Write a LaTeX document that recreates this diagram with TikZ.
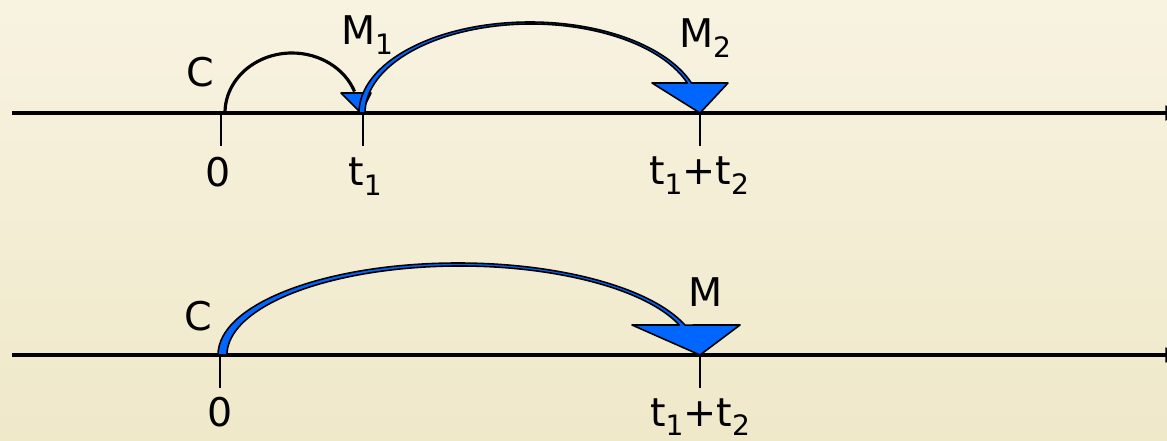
\documentclass[tikz,border=0pt]{standalone}
\usepackage{fontspec}
\setmainfont{DejaVu Sans}
\usetikzlibrary{arrows.meta}
\definecolor{figbgtop}{RGB}{248,243,225}
\definecolor{figbgbottom}{RGB}{239,232,201}
\definecolor{figblue}{RGB}{0,102,255}
\newcommand{\idx}[1]{\raisebox{-0.25em}{\fontsize{16}{16}\selectfont #1}}
\tikzset{
  figaxis/.style={draw=black, line width=1.8pt},
  figtick/.style={draw=black, line width=1.1pt},
  figarc/.style={draw=black, line width=1.8pt},
  figband/.style={draw=black, fill=figblue, line width=0.9pt, line join=round},
  figlabel/.style={font=\fontsize{22.5}{26}\selectfont, inner sep=0pt, anchor=base}
}

\begin{document}
\begin{tikzpicture}[x=0.02cm,y=0.02cm]
  \useasboundingbox (0,0) rectangle (1167,440);
  \shade[top color=figbgtop,bottom color=figbgbottom] (0,0) rectangle (1167,440);
  \clip (0,0) rectangle (1167,440);
  \def\ya{327} \def\yb{85}
  % time axes (tips run off the right edge)
  \draw[figaxis,-{Latex[length=14pt,width=9pt]}] (12,\ya) -- (1190,\ya);
  \draw[figaxis,-{Latex[length=14pt,width=9pt]}] (12,\yb) -- (1190,\yb);
  % ticks
  \foreach \x/\y in {221/\ya,363/\ya,700/\ya,220/\yb,700/\yb} {
    \draw[figtick] (\x,\y) -- ++(0,-33);
  }
  % tick labels
  \node[figlabel] (z1) at (218,253) {0};
  \node[figlabel] (t1) at (365,254) {t\idx{1}};
  \node[figlabel] (s1) at (699,255) {t\idx{1}+t\idx{2}};
  \node[figlabel] (z2) at (220,14) {0};
  \node[figlabel] (s2) at (700,14) {t\idx{1}+t\idx{2}};
  % upper row: C -> M1 -> M2
  \node[figlabel] (c1) at (200,353) {C};
  \node[figlabel] (m1) at (367,395) {M\idx{1}};
  \node[figlabel] (m2) at (705,392) {M\idx{2}};
  \draw[figarc] (225,\ya) arc[start angle=180,end angle=21,x radius=67,y radius=60];
  \draw[figband] (341,347) -- (371,347) -- (361,\ya) -- cycle;
  \draw[figband] (359,\ya) arc[start angle=180,end angle=19.25,x radius=171,y radius=91]
    -- (728,357) -- (700,\ya) -- (652,357) -- (687.3,357)
    arc[start angle=19.7,end angle=180,x radius=166,y radius=89] -- cycle;
  % lower row: C -> M in one jump
  \node[figlabel] (c2) at (198,110) {C};
  \node[figlabel] (m3) at (706,133) {M};
  \draw[figband] (218,\yb) arc[start angle=180,end angle=19,x radius=240,y radius=92]
    -- (740,115) -- (700,\yb) -- (632,115) -- (679.3,115)
    arc[start angle=19.7,end angle=180,x radius=233,y radius=89] -- cycle;
\end{tikzpicture}
\end{document}
